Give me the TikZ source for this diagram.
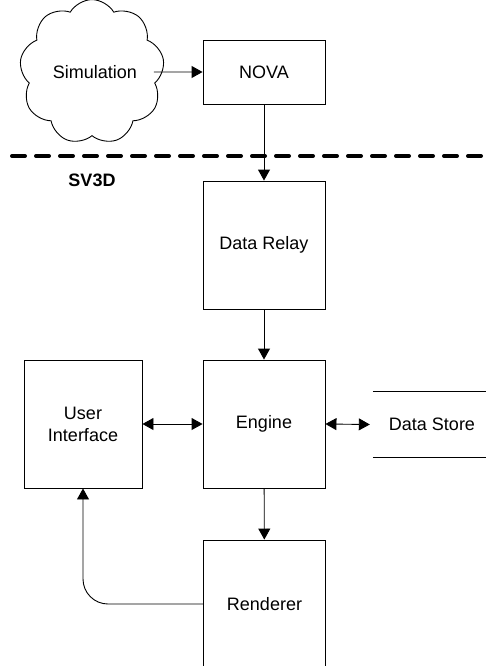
\documentclass[tikz,border=0pt]{standalone}
\usepackage{fontspec}
\setmainfont{Liberation Sans}
\usetikzlibrary{arrows.meta,shapes.symbols}
\begin{document}
\begin{tikzpicture}[x=1pt,y=-1pt,
  lbl/.style={font=\fontsize{18}{22}\selectfont,align=center},
  box/.style={lbl,draw,line width=0.9pt,minimum width=122pt,minimum height=128pt,inner sep=0pt},
  tip/.tip={Triangle[length=11pt,width=12pt]},
  conn/.style={line width=0.9pt,-tip},
  biconn/.style={line width=0.9pt,tip-tip}]
\clip (0,0) rectangle (486,666);
\fill[white] (0,0) rectangle (486,666);
% boundary
\draw[line width=4pt,line cap=round,dash pattern=on 13pt off 11pt] (12,156) -- (486,156);
\node[font=\bfseries\fontsize{18}{22}\selectfont] (sv) at (92,180) {SV3D};
% nodes
\node[lbl,cloud,draw,line width=0.9pt,cloud puffs=9,cloud puff arc=120,minimum width=141pt,minimum height=129pt,inner sep=0pt] (sim) at (92,72) {\hspace*{6pt}Simulation};
\node[box,minimum height=64pt] (nova) at (264,72) {NOVA};
\node[box] (relay) at (264,245) {Data Relay};
\node[box] (engine) at (264,424) {Engine};
\node[box,minimum width=118pt] (ui) at (83,424) {User\\Interface};
\node[box] (ren) at (264.5,604) {Renderer};
\node[lbl,minimum width=113pt,minimum height=65pt,inner sep=0pt] (ds) at (429.5,424.5) {\hspace*{5pt}Data Store};
\draw[line width=0.9pt] (ds.north west) -- (ds.north east) (ds.south west) -- (ds.south east);
% connectors
\draw[conn] ([xshift=-9pt]sim.east) -- (nova.west);
\draw[conn] (nova) -- (relay);
\draw[conn] (relay) -- (engine);
\draw[conn] (engine) -- (ren);
\draw[biconn] (ui) -- (engine);
\draw[biconn] (engine.east) -- ([xshift=-3pt]ds.west);
\draw[conn,rounded corners=25pt] (ren.west) -| (ui.south);
\end{tikzpicture}
\end{document}
